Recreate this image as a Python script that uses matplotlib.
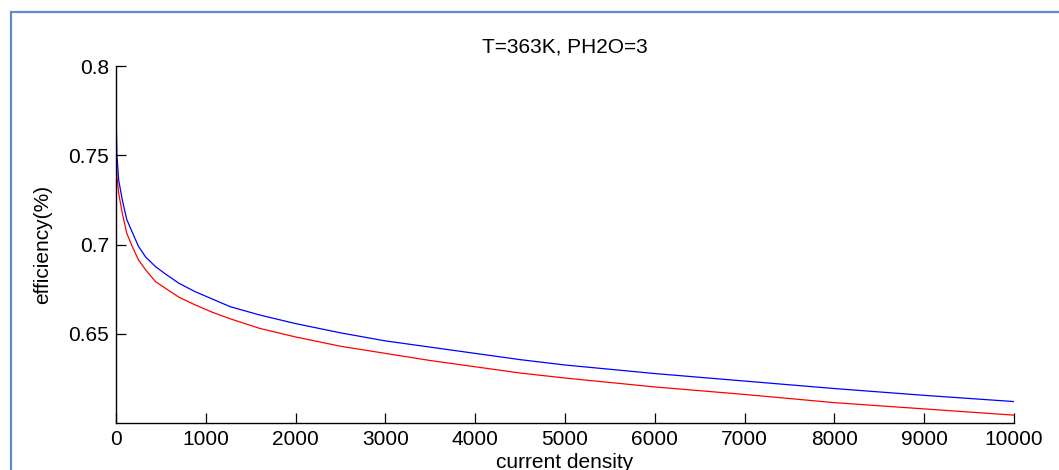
import matplotlib

matplotlib.use("Agg")
import matplotlib.pyplot as plt
from matplotlib.patches import Rectangle

plt.rcParams["font.family"] = ["Liberation Sans", "DejaVu Sans"]

# values
current_density = [0, 10, 30, 70, 120, 180, 250, 330, 440, 550, 700, 880,
                   1070, 1270, 1600, 2000, 2500, 3000, 3500, 4000, 4500,
                   5000, 6000, 7000, 8000, 9000, 10000]
eff_blue = [0.7755, 0.750, 0.736, 0.725, 0.714, 0.707, 0.699, 0.693, 0.6876,
            0.6835, 0.6783, 0.6736, 0.6695, 0.6652, 0.6605, 0.6557, 0.6505,
            0.646, 0.6425, 0.639, 0.6355, 0.6325, 0.6277, 0.6235, 0.6193,
            0.6155, 0.612]
eff_red = [0.755, 0.738, 0.7287, 0.7175, 0.7063, 0.699, 0.6914, 0.6858,
           0.6792, 0.6755, 0.6705, 0.6662, 0.6621, 0.6584, 0.653, 0.6482,
           0.643, 0.639, 0.635, 0.6315, 0.628, 0.6252, 0.6202, 0.616, 0.6114,
           0.6079, 0.6044]

x_ticks = list(range(0, 10001, 1000))
y_ticks = [0.65, 0.7, 0.75, 0.8]

fig = plt.figure(figsize=(10.59, 4.70), dpi=100)
ax = fig.add_axes([116 / 1059, 1 - 423 / 470, (1014 - 116) / 1059, (423 - 66) / 470])

ax.plot(current_density, eff_red, color="red", linewidth=0.9)
ax.plot(current_density, eff_blue, color="blue", linewidth=0.9)

ax.set_xlim(0, 10000)
ax.set_ylim(0.6, 0.8)
ax.set_xticks(x_ticks)
ax.set_yticks(y_ticks)
ax.set_yticklabels([f"{v:g}" for v in y_ticks])
ax.tick_params(direction="in", length=7, width=0.9, labelsize=15, pad=5)

for side in ("top", "right"):
    ax.spines[side].set_visible(False)
for side in ("left", "bottom"):
    ax.spines[side].set_linewidth(1.0)

ax.set_title("T=363K, PH2O=3", fontsize=15, pad=10)
ax.set_xlabel("current density", fontsize=15, labelpad=3)
ax.set_ylabel("efficiency(%)", fontsize=15, labelpad=12)

# blue frame around the figure (only top and left edges inside the image)
fig.add_artist(Rectangle((11 / 1059, -0.2), 1.2, 1 - 12 / 470 + 0.2,
                         transform=fig.transFigure, fill=False,
                         edgecolor="#5b8ccc", linewidth=1.6, clip_on=False))

fig.savefig("out.png", dpi=100)
